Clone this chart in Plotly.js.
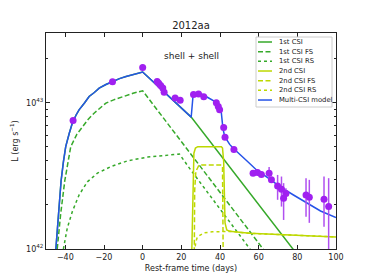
<!DOCTYPE html>
<html><head><meta charset="utf-8">
<script src="https://cdn.plot.ly/plotly-3.0.1.min.js"></script>
<style>html,body{margin:0;padding:0;background:#fff}#chart{width:374px;height:280px}</style>
</head><body><div id="chart"></div>
<script>
// luminosities in units of 1e42 erg/s
const UNIT = 1e42;

const obsDay = [-36, -15.6, 0, 7.5, 8.3, 9.3, 10.4, 11.1, 16.8, 19.4, 26.3, 28.9, 31.6, 38.1, 39.1, 39.8, 41.9, 42.6, 47.2, 57.1, 59.4, 61.4, 65.4, 66.6, 69.8, 71.8, 72.9, 74.1, 84.5, 86.2, 93.8, 96.2];
const obsL = [7.57, 13.9, 17.4, 14.0, 13.6, 13.1, 12.6, 11.8, 10.8, 10.4, 11.4, 11.5, 11.0, 10.0, 9.44, 8.95, 6.78, 5.82, 4.79, 3.30, 3.33, 3.23, 3.30, 2.97, 2.70, 2.56, 2.22, 2.40, 2.34, 2.26, 2.19, 1.95];
const obsErrUp = [0, 0, 0, 0, 0, 0, 0, 0, 0, 0, 0, 0, 0, 0, 0, 0, 0, 0, 0.2, 0, 0, 0, 0.33, 0, 0.51, 0.57, 0.60, 0.2, 0.71, 0.71, 0.94, 1.10];
const obsErrDn = [0, 0, 0, 0, 0, 0, 0, 0, 0, 0, 0, 0, 0, 0, 0, 0, 0, 0, 0.2, 0, 0, 0, 0.33, 0, 0.53, 0.61, 0.64, 0.2, 0.68, 0.75, 0.77, 1.0];

const modelDay = [-44.9, -44.3, -43.6, -42.2, -41, -39.8, -38, -36.4, -34.5, -32.9, -30, -27.7, -25, -22.5, -19, -15.6, -12, -8.6, -4, 0, 25.1, 26.1, 27.7, 30.3, 33.7, 37.2, 39.4, 40.7, 41.5, 42.4, 45, 46.7, 53.7, 58.9, 65, 71, 78, 84.8, 92, 100];
const modelL = [1.0, 1.26, 1.74, 2.92, 3.94, 5.01, 6.17, 7.24, 8.22, 8.95, 10.0, 11.04, 11.75, 12.59, 13.34, 14.0, 14.62, 15.14, 15.74, 16.22, 7.98, 11.35, 11.75, 11.48, 10.86, 10.21, 9.44, 8.51, 6.71, 5.89, 5.19, 4.90, 4.03, 3.47, 3.05, 2.67, 2.34, 2.06, 1.82, 1.64];

const csi1Day = [-44.9, -44.3, -43.6, -42.2, -41, -39.8, -38, -36.4, -34.5, -32.9, -30, -27.7, -25, -22.5, -19, -15.6, -12, -8.6, -4, 0, 25.1, 78.5];
const csi1L = [1.0, 1.26, 1.74, 2.92, 3.94, 5.01, 6.17, 7.24, 8.22, 8.95, 10.0, 11.04, 11.75, 12.59, 13.34, 14.0, 14.62, 15.14, 15.74, 16.22, 7.98, 0.97];

const csi1FsDay = [-44.2, -43.3, -42.4, -40.3, -38.7, -37.2, -34, -31.2, -28, -25, -22, -19, -15, -10.4, -5, 0, 62.8];
const csi1FsL = [1.0, 1.35, 1.74, 2.92, 3.98, 5.01, 6.10, 6.89, 7.76, 8.51, 9.23, 9.95, 10.47, 11.04, 11.61, 12.08, 0.98];

const csi1RsDay = [-41, -40, -39, -36.4, -32.9, -28.6, -23.4, -16.4, -7.8, 2.6, 13, 19, 24.2, 46.7, 56];
const csi1RsL = [1.0, 1.19, 1.39, 1.80, 2.34, 2.88, 3.30, 3.66, 4.01, 4.25, 4.41, 4.46, 3.57, 1.42, 0.98];

const csi2Day = [25.4, 26.0, 26.5, 27.3, 28.5, 40.7, 41.3, 41.9, 42.2, 42.6, 43.5, 45, 55.4, 100];
const csi2L = [0.95, 3.16, 4.52, 4.90, 5.01, 5.01, 4.90, 3.98, 2.24, 1.51, 1.35, 1.32, 1.28, 1.21];

const csi2FsDay = [26.7, 26.9, 27.5, 29.0, 30.3, 40.7, 41.3, 41.5, 41.65];
const csi2FsL = [0.95, 2.51, 3.39, 3.72, 3.76, 3.76, 3.63, 2.0, 0.9];

const csi2RsDay = [26.8, 27.5, 28.3, 31.8, 36, 42.2, 45, 55.4, 100];
const csi2RsL = [0.95, 1.12, 1.21, 1.29, 1.31, 1.32, 1.32, 1.28, 1.21];

const xTicks = [-40, -20, 0, 20, 40, 60, 80, 100];
const yTicks = [1e42, 1e43];
const yTickText = ['10<sup>42</sup>', '10<sup>43</sup>'];
const yMinor = [2e42, 3e42, 4e42, 5e42, 6e42, 7e42, 8e42, 9e42, 2e43, 3e43];

const legendNames = ['1st CSI', '1st CSI FS', '1st CSI RS', '2nd CSI', '2nd CSI FS', '2nd CSI RS', 'Multi-CSI model'];

const GREEN = '#36a92a', YG = '#bdd800', BLUE = '#2553e8', PURPLE = '#a020f0';
const legendColors = [GREEN, GREEN, GREEN, YG, YG, YG, BLUE];
const DASH = '5px,2.5px';
const legendDashes = ['solid', DASH, 'dot', 'solid', DASH, 'dot', 'solid'];

const sc = a => a.map(v => v * UNIT);
const line = (x, y, color, dash, name) => ({
  x, y: sc(y), mode: 'lines', name, type: 'scatter',
  line: {color, width: 1.5, dash}, hoverinfo: 'skip', showlegend: false
});

const traces = [
  line(csi1Day, csi1L, GREEN, 'solid', '1st CSI'),
  line(csi1FsDay, csi1FsL, GREEN, DASH, '1st CSI FS'),
  line(csi1RsDay, csi1RsL, GREEN, 'dot', '1st CSI RS'),
  line(csi2Day, csi2L, YG, 'solid', '2nd CSI'),
  line(csi2FsDay, csi2FsL, YG, DASH, '2nd CSI FS'),
  line(csi2RsDay, csi2RsL, YG, 'dot', '2nd CSI RS'),
  line(modelDay, modelL, BLUE, 'solid', 'Multi-CSI model'),
  {
    x: obsDay, y: sc(obsL), type: 'scatter', mode: 'markers', showlegend: false,
    marker: {color: PURPLE, size: 7},
    error_y: {type: 'data', symmetric: false, array: sc(obsErrUp), arrayminus: sc(obsErrDn),
              color: '#b050f0', thickness: 1.5, width: 0}
  }
];

// manual legend (paper coordinates)
const L = 46, R = 336, T = 33, B = 249, W = R - L, H = B - T;
const px = x => (x - L) / W;
const py = y => (B - y) / H;
const shapes = [{
  type: 'rect', xref: 'paper', yref: 'paper',
  x0: px(256), x1: px(332), y0: py(107), y1: py(37),
  line: {color: '#cccccc', width: 1}, fillcolor: 'rgba(255,255,255,0.9)', layer: 'above'
}];
const annotations = [{
  xref: 'paper', yref: 'paper', x: px(191), y: py(56), text: 'shell + shell',
  showarrow: false, font: {size: 9, color: '#222'}, xanchor: 'center', yanchor: 'middle'
}];
legendNames.forEach((n, i) => {
  const yy = 42 + i * 9.67;
  shapes.push({type: 'line', xref: 'paper', yref: 'paper', x0: px(258), x1: px(272),
    y0: py(yy), y1: py(yy), line: {color: legendColors[i], width: 1.5, dash: legendDashes[i]}, layer: 'above'});
  annotations.push({xref: 'paper', yref: 'paper', x: px(276.5), y: py(yy), text: n, showarrow: false,
    xanchor: 'left', yanchor: 'middle', font: {size: 6.8, color: '#222'}});
});

const layout = {
  width: 374, height: 280,
  margin: {l: L, r: 374 - R, t: T, b: 280 - B},
  paper_bgcolor: '#fff', plot_bgcolor: '#fff',
  font: {family: 'DejaVu Sans', size: 8, color: '#222'},
  title: {text: '2012aa', font: {size: 10, color: '#222'}, x: 0.5, xref: 'paper', xanchor: 'center',
          y: 1 - 25 / 280, yref: 'container', yanchor: 'middle'},
  showlegend: false,
  xaxis: {
    range: [-50, 100], tickmode: 'array', tickvals: xTicks,
    ticks: 'inside', ticklen: 4, tickcolor: '#222', mirror: 'allticks',
    showline: true, linecolor: '#222', linewidth: 1, showgrid: false, zeroline: false,
    tickfont: {size: 8}, title: {text: 'Rest-frame time (days)', font: {size: 8}, standoff: 4}
  },
  yaxis: {
    type: 'log', range: [42, Math.log10(3e43)], tickmode: 'array', tickvals: yTicks, ticktext: yTickText,
    ticks: 'inside', ticklen: 4, tickcolor: '#222', mirror: 'allticks',
    minor: {tickmode: 'array', tickvals: yMinor, ticks: 'inside', ticklen: 2, tickcolor: '#222', showgrid: false},
    showline: true, linecolor: '#222', linewidth: 1, showgrid: false, zeroline: false,
    tickfont: {size: 8}, title: {text: 'L (erg s<sup>−1</sup>)', font: {size: 8}, standoff: 6}
  },
  shapes, annotations
};

Plotly.newPlot('chart', traces, layout, {staticPlot: true, displayModeBar: false});
</script></body></html>
